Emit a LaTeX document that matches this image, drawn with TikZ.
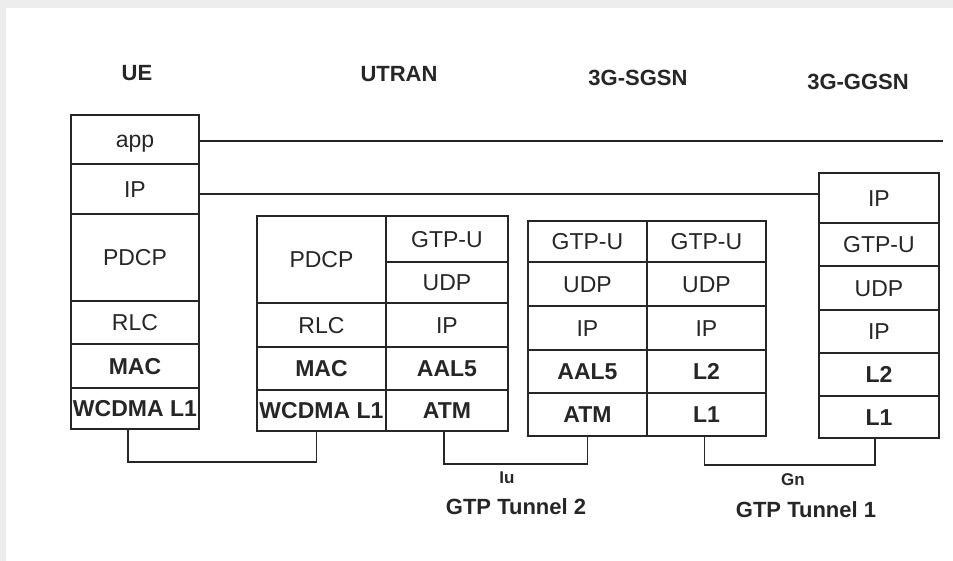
\documentclass[tikz,border=0pt]{standalone}
\usepackage{fontspec}
\setmainfont{Liberation Sans}
\begin{document}
\begin{tikzpicture}[x=1pt,y=-1pt,
  cell/.style={draw=black!85, line width=1.9pt, rectangle, inner sep=0pt, anchor=north west,
    text=black!85, font=\fontsize{23}{26}\selectfont, text height=16.5pt, text depth=0pt},
  bcell/.style={cell, font=\fontsize{23}{26}\selectfont\bfseries},
  head/.style={text=black!85, font=\fontsize{22}{25}\selectfont\bfseries, inner sep=0pt},
  lbl/.style={text=black!85, font=\fontsize{22}{25}\selectfont\bfseries, inner sep=0pt},
  slbl/.style={text=black!85, font=\fontsize{17}{19}\selectfont\bfseries, inner sep=0pt},
  link/.style={draw=black!85, line width=1.9pt}]
\fill[black!7] (0,0) rectangle (953,561);
\fill[white] (6,8) rectangle (953,561);
\useasboundingbox (0,0) rectangle (953,561);

% headers
\node[head] (hue) at (137,73) {UE};
\node[head] (hutran) at (399,74) {UTRAN};
\node[head] (hsgsn) at (638,78) {3G-SGSN};
\node[head] (hggsn) at (858,82) {3G-GGSN};

% UE stack
\node[cell, minimum width=128pt, minimum height=49pt] (ue1) at (70,114) {app};
\node[cell, minimum width=128pt, minimum height=50pt] (ue2) at (70,163) {IP};
\node[cell, minimum width=128pt, minimum height=87pt] (ue3) at (70,213) {PDCP};
\node[cell, minimum width=128pt, minimum height=43pt] (ue4) at (70,300) {RLC};
\node[bcell, minimum width=128pt, minimum height=44pt] (ue5) at (70,343) {MAC};
\node[bcell, minimum width=128pt, minimum height=41pt] (ue6) at (70,387) {WCDMA L1};

% UTRAN stack
\node[cell, minimum width=129pt, minimum height=87pt] (ut1) at (256,215) {PDCP};
\node[cell, minimum width=129pt, minimum height=44pt] (ut2) at (256,302) {RLC};
\node[bcell, minimum width=129pt, minimum height=43pt] (ut3) at (256,346) {MAC};
\node[bcell, minimum width=129pt, minimum height=41pt] (ut4) at (256,389) {WCDMA L1};
\node[cell, minimum width=122pt, minimum height=46pt] (ur1) at (385,215) {GTP-U};
\node[cell, minimum width=122pt, minimum height=41pt] (ur2) at (385,261) {UDP};
\node[cell, minimum width=122pt, minimum height=44pt] (ur3) at (385,302) {IP};
\node[bcell, minimum width=122pt, minimum height=43pt] (ur4) at (385,346) {AAL5};
\node[bcell, minimum width=122pt, minimum height=41pt] (ur5) at (385,389) {ATM};

% 3G-SGSN stack
\node[cell, minimum width=119pt, minimum height=41pt] (sl1) at (527,220) {GTP-U};
\node[cell, minimum width=119pt, minimum height=44pt] (sl2) at (527,261) {UDP};
\node[cell, minimum width=119pt, minimum height=44pt] (sl3) at (527,305) {IP};
\node[bcell, minimum width=119pt, minimum height=43pt] (sl4) at (527,349) {AAL5};
\node[bcell, minimum width=119pt, minimum height=43pt] (sl5) at (527,392) {ATM};
\node[cell, minimum width=119pt, minimum height=41pt] (sr1) at (646,220) {GTP-U};
\node[cell, minimum width=119pt, minimum height=44pt] (sr2) at (646,261) {UDP};
\node[cell, minimum width=119pt, minimum height=44pt] (sr3) at (646,305) {IP};
\node[bcell, minimum width=119pt, minimum height=43pt] (sr4) at (646,349) {L2};
\node[bcell, minimum width=119pt, minimum height=43pt] (sr5) at (646,392) {L1};

% 3G-GGSN stack
\node[cell, minimum width=120pt, minimum height=50pt] (gg1) at (818,172) {IP};
\node[cell, minimum width=120pt, minimum height=43pt] (gg2) at (818,222) {GTP-U};
\node[cell, minimum width=120pt, minimum height=44pt] (gg3) at (818,265) {UDP};
\node[cell, minimum width=120pt, minimum height=43pt] (gg4) at (818,309) {IP};
\node[bcell, minimum width=120pt, minimum height=43pt] (gg5) at (818,352) {L2};
\node[bcell, minimum width=120pt, minimum height=42pt] (gg6) at (818,395) {L1};

% peer lines
\coordinate (append) at (943,140);
\draw[link] ([yshift=-1.5pt]ue1.east) -- ([yshift=-1.5pt]ue1.east -| append);
\draw[link] ([yshift=-5pt]ue2.east) -- ([yshift=-5pt]ue2.east -| gg1.west);

% physical links
\draw[link] ([xshift=-7pt]ue6.south) -- ++(0,32) -| ([xshift=-5pt]ut4.south);
\draw[link] ([xshift=-3pt]ur5.south) -- ++(0,32) -| (sl5.south);
\draw[link] ([xshift=-2pt]sr5.south) -- ++(0,28) -| ([xshift=-4pt]gg6.south);

% labels
\node[slbl] (iu) at (507,478) {Iu};
\node[lbl] (t2) at (516,507) {GTP Tunnel 2};
\node[slbl] (gn) at (793,480) {Gn};
\node[lbl] (t1) at (806,510) {GTP Tunnel 1};
\end{tikzpicture}
\end{document}
